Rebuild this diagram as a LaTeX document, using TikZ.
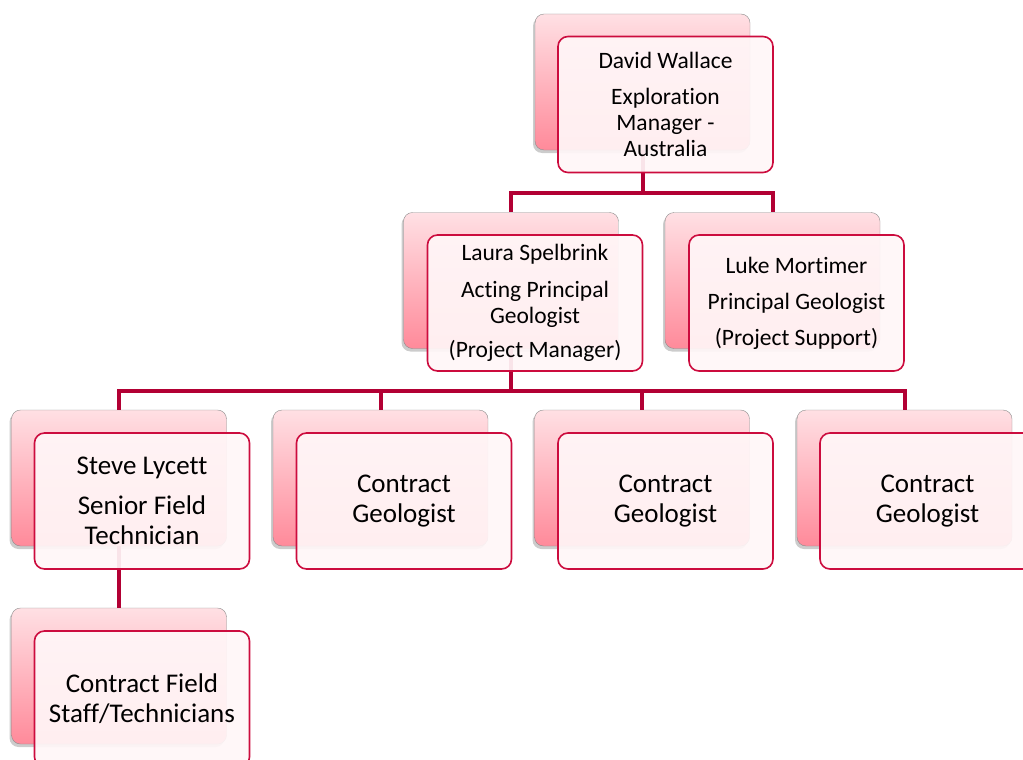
\documentclass[tikz,border=0pt]{standalone}
\usepackage{fontspec}
\setmainfont[Ligatures=NoCommon]{Carlito}
\usepackage{tikz}
\usetikzlibrary{positioning}
\usetikzlibrary{shadows}
\usepackage{xcolor}
\definecolor{linkred}{RGB}{178,0,52}
\definecolor{edgered}{RGB}{204,12,62}
\definecolor{pinktop}{RGB}{255,224,228}
\definecolor{pinkbot}{RGB}{255,138,154}
\definecolor{frontfill}{RGB}{255,246,247}

\begin{document}
\begin{tikzpicture}[
  x=1pt, y=-1pt,
  backbox/.style={draw=black!45, rounded corners=9pt, minimum width=215pt, minimum height=136pt,
    top color=pinktop, bottom color=pinkbot,
    drop shadow={shadow xshift=-2pt, shadow yshift=-3pt, opacity=0.4}},
  frontbox/.style={draw=edgered, line width=1.6pt, rounded corners=10pt, minimum width=215pt,
    minimum height=136pt, fill=frontfill, fill opacity=0.93, text opacity=1, align=center},
  upper/.style={font=\fontsize{23.5}{26}\selectfont},
  lower/.style={font=\fontsize{27}{30}\selectfont},
  link/.style={draw=linkred, line width=4pt}
]
\useasboundingbox (0,0) rectangle (1023,760);
\clip (0,0) rectangle (1023,760);

% Back cards
\node[backbox] (davidbk) at (642.5,82) {};
\node[backbox] (laurabk) at (511,280.5) {};
\node[backbox] (lukebk) at (772.5,280.5) {};
\node[backbox] (stevebk) at (119,478) {};
\node[backbox] (geoabk) at (380.5,478) {};
\node[backbox] (geobbk) at (642,478) {};
\node[backbox] (geocbk) at (904.5,478) {};
\node[backbox] (staffbk) at (119,676) {};

% Reporting lines
\draw[link] (davidbk.south) -- ++(0,43) -| (laurabk.north);
\draw[link] (davidbk.south) -- ++(0,43) -| (lukebk.north);
\draw[link] (laurabk.south) -- ++(0,42) -| (stevebk.north);
\draw[link] (laurabk.south) -- ++(0,42) -| (geoabk.north);
\draw[link] (laurabk.south) -- ++(0,42) -| (geobbk.north);
\draw[link] (laurabk.south) -- ++(0,42) -| (geocbk.north);
\draw[link] (stevebk.south) -- (staffbk.north);

% Front cards
\node[frontbox, upper] (david) at (665.5,104.5) {David Wallace\\[10pt]Exploration\\Manager -\\Australia};
\node[frontbox, upper] (laura) at (535,303) {Laura Spelbrink\\[11pt]Acting Principal\\Geologist\\[8pt](Project Manager)};
\node[frontbox, upper] (luke) at (796.5,303) {Luke Mortimer\\[10pt]Principal Geologist\\[10pt](Project Support)};
\node[frontbox, lower] (steve) at (142,501) {Steve Lycett\\[10pt]Senior Field\\Technician};
\node[frontbox, lower] (geoa) at (404,501) {Contract\\Geologist};
\node[frontbox, lower] (geob) at (665.5,501) {Contract\\Geologist};
\node[frontbox, lower] (geoc) at (927.5,501) {Contract\\Geologist};
\node[frontbox, lower] (staff) at (142,699) {Contract Field\\Staff/Technicians};

\end{tikzpicture}
\end{document}
